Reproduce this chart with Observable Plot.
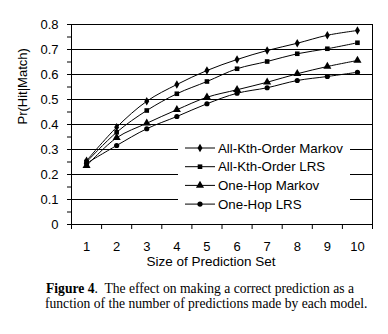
<!DOCTYPE html>
<html><head><meta charset="utf-8">
<script src="https://cdn.jsdelivr.net/npm/d3@7"></script>
<script src="https://cdn.jsdelivr.net/npm/@observablehq/plot@0.6"></script>
<style>
body{margin:0;background:#fff;}
#wrap{position:relative;width:388px;}
#cap{font-family:"Liberation Serif","Times New Roman",serif;font-size:13.6px;line-height:15px;color:#000;margin:6px 0 0 46px;width:342px;white-space:nowrap;}
</style></head>
<body><div id="wrap"></div><div id="cap"><b>Figure 4</b>.&nbsp; The effect on making a correct prediction as a<br><span style="margin-left:-1px">function of the number of predictions made by each model.</span></div>
<script>
const sizes = [1,2,3,4,5,6,7,8,9,10];
const seriesNames = ["All-Kth-Order Markov","All-Kth-Order LRS","One-Hop Markov","One-Hop LRS"];
const seriesSymbols = ["diamond","square","triangle","circle"];
const allKthMarkov = [0.255,0.389,0.493,0.560,0.616,0.660,0.696,0.725,0.757,0.776];
const allKthLRS    = [0.250,0.369,0.456,0.523,0.572,0.623,0.652,0.683,0.703,0.727];
const oneHopMarkov = [0.235,0.347,0.405,0.459,0.509,0.539,0.569,0.603,0.632,0.656];
const oneHopLRS    = [0.245,0.316,0.383,0.432,0.483,0.525,0.547,0.576,0.592,0.609];
const yTicks = [0,0.1,0.2,0.3,0.4,0.5,0.6,0.7,0.8];
const yMinor = [0.05,0.15,0.25,0.35,0.45,0.55,0.65,0.75];
const xBounds = [0.5,1.5,2.5,3.5,4.5,5.5,6.5,7.5,8.5,9.5,10.5];
const yLabel = "Pr(Hit|Match)";
const xLabel = "Size of Prediction Set";

const allValues = [allKthMarkov, allKthLRS, oneHopMarkov, oneHopLRS];
const data = [];
seriesNames.forEach((s,i)=>sizes.forEach((x,j)=>data.push({series:s, sym:seriesSymbols[i], x, y:allValues[i][j]})));

const font = "Liberation Sans, Arial, sans-serif";
const symSize = {diamond:2.6, square:2.6, triangle:3.0, circle:2.6};

function legend(index, scales, values, dim) {
  const g = d3.create("svg:g").attr("text-anchor","start").style("text-anchor","start");
  const bx = 178, by = 138, bw = 172, bh = 78;
  g.append("rect").attr("x",bx).attr("y",by).attr("width",bw).attr("height",bh)
    .attr("fill","white").style("fill","white").style("stroke","none");
  seriesNames.forEach((name,i)=>{
    const yy = 148 + i*18.7;
    g.append("line").attr("x1",185).attr("x2",215).attr("y1",yy).attr("y2",yy).style("stroke","black");
    const sym = {diamond:d3.symbolDiamond, square:d3.symbolSquare, triangle:d3.symbolTriangle, circle:d3.symbolCircle}[seriesSymbols[i]];
    const r = symSize[seriesSymbols[i]];
    g.append("path").attr("transform",`translate(200,${yy})`).attr("d", d3.symbol(sym, Math.PI*r*r)()).style("fill","black");
    g.append("text").attr("x",218).attr("y",yy).attr("dy","0.36em").attr("font-size",13.3)
      .attr("font-family",font).style("text-anchor","start").style("fill","black").text(name);
  });
  return g.node();
}

const isMajor = d => yTicks.some(t => Math.abs(t - d) < 1e-9);

const chart = Plot.plot({
  width: 388, height: 275,
  marginLeft: 71, marginRight: 16, marginTop: 24, marginBottom: 51,
  style: {fontFamily: font, fontSize: "12px", background: "white", color: "black"},
  x: {type: "linear", domain: [0.5, 10.5], axis: null},
  y: {domain: [0, 0.8], axis: null},
  marks: [
    Plot.ruleY(yTicks, {x1: 0.5, x2: 10.5, stroke: "black", strokeWidth: 1}),
    Plot.ruleX([0.5, 10.5], {y1: 0, y2: 0.8, stroke: "black"}),
    Plot.axisY({ticks: yTicks.concat(yMinor), tickSize: 4, tickPadding: 9, tickFormat: d => isMajor(d) ? (d === 0 ? "0" : d3.format(".1f")(d)) : "", fontSize: 13, label: null}),
    Plot.axisX({ticks: xBounds, tickSize: 5, tickFormat: () => "", label: null}),
    Plot.axisX({ticks: sizes, tickSize: 0, tickPadding: 17, fontSize: 13, label: null, tickFormat: d => String(d)}),
    Plot.text([yLabel], {frameAnchor: "left", dx: -49, rotate: -90, fontSize: 13}),
    Plot.text([xLabel], {frameAnchor: "bottom", dx: -11, dy: 41, fontSize: 13.5}),
    Plot.line(data, {x: "x", y: "y", z: "series", stroke: "black", strokeWidth: 1, curve: "catmull-rom"}),
    Plot.dot(data.filter(d=>d.sym==="diamond"), {x:"x", y:"y", symbol:"diamond", fill:"black", r: symSize.diamond}),
    Plot.dot(data.filter(d=>d.sym==="square"), {x:"x", y:"y", symbol:"square", fill:"black", r: symSize.square}),
    Plot.dot(data.filter(d=>d.sym==="triangle"), {x:"x", y:"y", symbol:"triangle", fill:"black", r: symSize.triangle}),
    Plot.dot(data.filter(d=>d.sym==="circle"), {x:"x", y:"y", symbol:"circle", fill:"black", r: symSize.circle}),
    legend
  ]
});
document.getElementById("wrap").appendChild(chart);
</script></body></html>
